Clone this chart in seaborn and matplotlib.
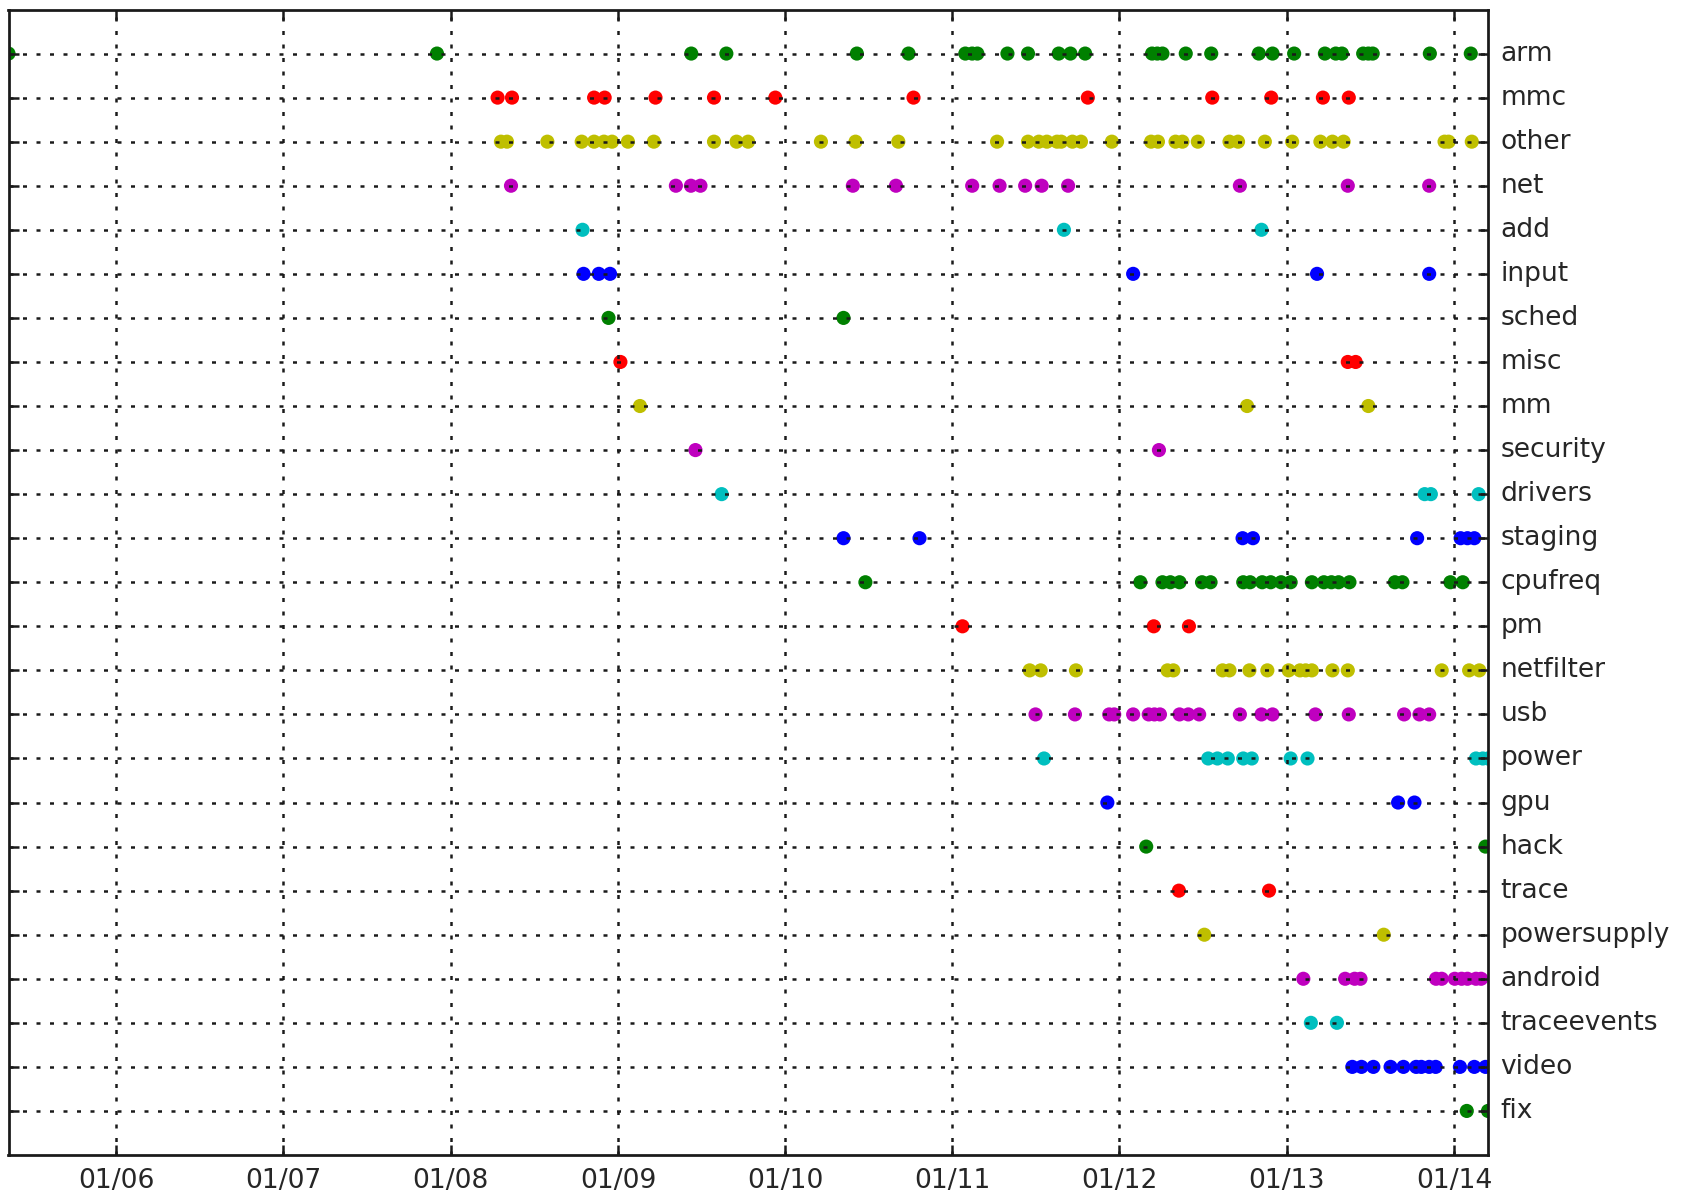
import datetime as dt

import matplotlib
matplotlib.use("Agg")
import matplotlib.pyplot as plt
import matplotlib.dates as mdates
import pandas as pd
import seaborn as sns

# dates, as decimal years
arm_dates = [2005.355, 2007.919, 2009.438, 2009.648, 2010.429, 2010.738, 2011.078, 2011.119,
             2011.150, 2011.330, 2011.453, 2011.637, 2011.707, 2011.795, 2012.195, 2012.226,
             2012.257, 2012.396, 2012.548, 2012.832, 2012.914, 2013.043, 2013.227, 2013.292,
             2013.329, 2013.456, 2013.487, 2013.513, 2013.855, 2014.100]
mmc_dates = [2008.281, 2008.367, 2008.857, 2008.920, 2009.224, 2009.574, 2009.941, 2010.768,
             2011.811, 2012.554, 2012.906, 2013.215, 2013.370]
other_dates = [2008.301, 2008.337, 2008.578, 2008.783, 2008.857, 2008.916, 2008.964, 2009.059,
               2009.214, 2009.574, 2009.709, 2009.778, 2010.214, 2010.421, 2010.677, 2011.268,
               2011.453, 2011.518, 2011.566, 2011.627, 2011.652, 2011.719, 2011.770, 2011.955,
               2012.189, 2012.230, 2012.335, 2012.376, 2012.468, 2012.657, 2012.708, 2012.868,
               2013.031, 2013.200, 2013.272, 2013.339, 2013.943, 2013.967, 2014.106]
net_dates = [2008.361, 2009.346, 2009.436, 2009.493, 2010.405, 2010.663, 2011.119, 2011.283,
             2011.436, 2011.535, 2011.693, 2012.719, 2013.364, 2013.851]
add_dates = [2008.788, 2011.668, 2012.848]
input_dates = [2008.794, 2008.885, 2008.952, 2012.082, 2013.180, 2013.851]
sched_dates = [2008.943, 2010.349]
misc_dates = [2009.014, 2013.364, 2013.411]
mm_dates = [2009.131, 2012.762, 2013.487]
security_dates = [2009.463, 2012.236]
drivers_dates = [2009.620, 2013.824, 2013.861, 2014.147]
staging_dates = [2010.349, 2010.804, 2012.735, 2012.797, 2013.779, 2014.039, 2014.080, 2014.121]
cpufreq_dates = [2010.480, 2012.125, 2012.257, 2012.304, 2012.359, 2012.493, 2012.544, 2012.739,
                 2012.780, 2012.852, 2012.903, 2012.965, 2013.022, 2013.149, 2013.221, 2013.266,
                 2013.309, 2013.374, 2013.646, 2013.691, 2013.978, 2014.052]
pm_dates = [2011.061, 2012.205, 2012.415]
netfilter_dates = [2011.463, 2011.529, 2011.740, 2012.287, 2012.322, 2012.616, 2012.657, 2012.776,
                   2012.883, 2013.010, 2013.078, 2013.112, 2013.149, 2013.272, 2013.364, 2013.926,
                   2014.090, 2014.151]
usb_dates = [2011.498, 2011.734, 2011.939, 2011.969, 2012.082, 2012.175, 2012.209, 2012.242,
             2012.359, 2012.411, 2012.476, 2012.719, 2012.848, 2012.914, 2013.170, 2013.370,
             2013.701, 2013.793, 2013.851]
power_dates = [2011.549, 2012.530, 2012.585, 2012.647, 2012.739, 2012.790, 2013.022, 2013.123,
               2014.131, 2014.172, 2014.203]
gpu_dates = [2011.928, 2013.665, 2013.763]
hack_dates = [2012.160, 2014.188]
trace_dates = [2012.355, 2012.893]
powersupply_dates = [2012.507, 2013.579]
android_dates = [2013.098, 2013.348, 2013.405, 2013.440, 2013.892, 2013.926, 2014.004, 2014.045,
                 2014.080, 2014.131, 2014.162]
traceevents_dates = [2013.143, 2013.299]
video_dates = [2013.391, 2013.446, 2013.517, 2013.620, 2013.697, 2013.773, 2013.804, 2013.851,
               2013.890, 2014.035, 2014.121, 2014.188]
fix_dates = [2014.076, 2014.203]

categories = ['arm', 'mmc', 'other', 'net', 'add', 'input', 'sched', 'misc', 'mm', 'security',
              'drivers', 'staging', 'cpufreq', 'pm', 'netfilter', 'usb', 'power', 'gpu', 'hack',
              'trace', 'powersupply', 'android', 'traceevents', 'video', 'fix']
category_dates = [arm_dates, mmc_dates, other_dates, net_dates, add_dates, input_dates,
                  sched_dates, misc_dates, mm_dates, security_dates, drivers_dates,
                  staging_dates, cpufreq_dates, pm_dates, netfilter_dates, usb_dates,
                  power_dates, gpu_dates, hack_dates, trace_dates, powersupply_dates,
                  android_dates, traceevents_dates, video_dates, fix_dates]

# old matplotlib colour letters, cycled per row
color_cycle = [(0, 0.5, 0), (1, 0, 0), (0.75, 0.75, 0), (0.75, 0, 0.75), (0, 0.75, 0.75), (0, 0, 1)]


def to_date(year_frac):
    year = int(year_frac)
    start = dt.datetime(year, 1, 1)
    length = dt.datetime(year + 1, 1, 1) - start
    return start + (year_frac - year) * length


rows = []
for i, (cat, dates) in enumerate(zip(categories, category_dates)):
    for d in dates:
        rows.append({'date': to_date(d), 'row': i, 'category': cat})
df = pd.DataFrame(rows)

palette = {cat: color_cycle[i % len(color_cycle)] for i, cat in enumerate(categories)}

sns.set_theme(style='white')
plt.rcParams['font.family'] = ['DejaVu Sans']

fig = plt.figure(figsize=(1688 / 180, 1196 / 180), dpi=180)
ax = fig.add_axes([8.5 / 1688, 41 / 1196, (1488 - 8.5) / 1688, (1155 - 9.5) / 1196])

sns.scatterplot(data=df, x='date', y='row', hue='category', palette=palette,
                s=32, linewidth=0, legend=False, ax=ax)

ax.set_xlim(df['date'].min(), df['date'].max())
ax.set_ylim(len(categories), -1)
ax.set_yticks(range(len(categories)))
ax.set_yticklabels(categories, fontsize=10.6, va='center')
ax.set_xlabel('')
ax.set_ylabel('')

ax.xaxis.set_major_locator(mdates.YearLocator())
ax.xaxis.set_major_formatter(mdates.DateFormatter('%m/%y'))

ax.tick_params(axis='y', left=True, right=True, labelleft=False, labelright=True,
               direction='in', length=4, width=1, color='k', labelsize=10.6, pad=5)
ax.tick_params(axis='x', bottom=True, top=True, direction='in', length=4, width=1,
               color='k', labelsize=10.6, pad=5)

for spine in ax.spines.values():
    spine.set_color('k')
    spine.set_linewidth(1.1)

ax.set_axisbelow(False)
ax.grid(True, color='k', linestyle=(0, (1.6, 3.8)), linewidth=1.0)

fig.savefig('out.png', dpi=180)
